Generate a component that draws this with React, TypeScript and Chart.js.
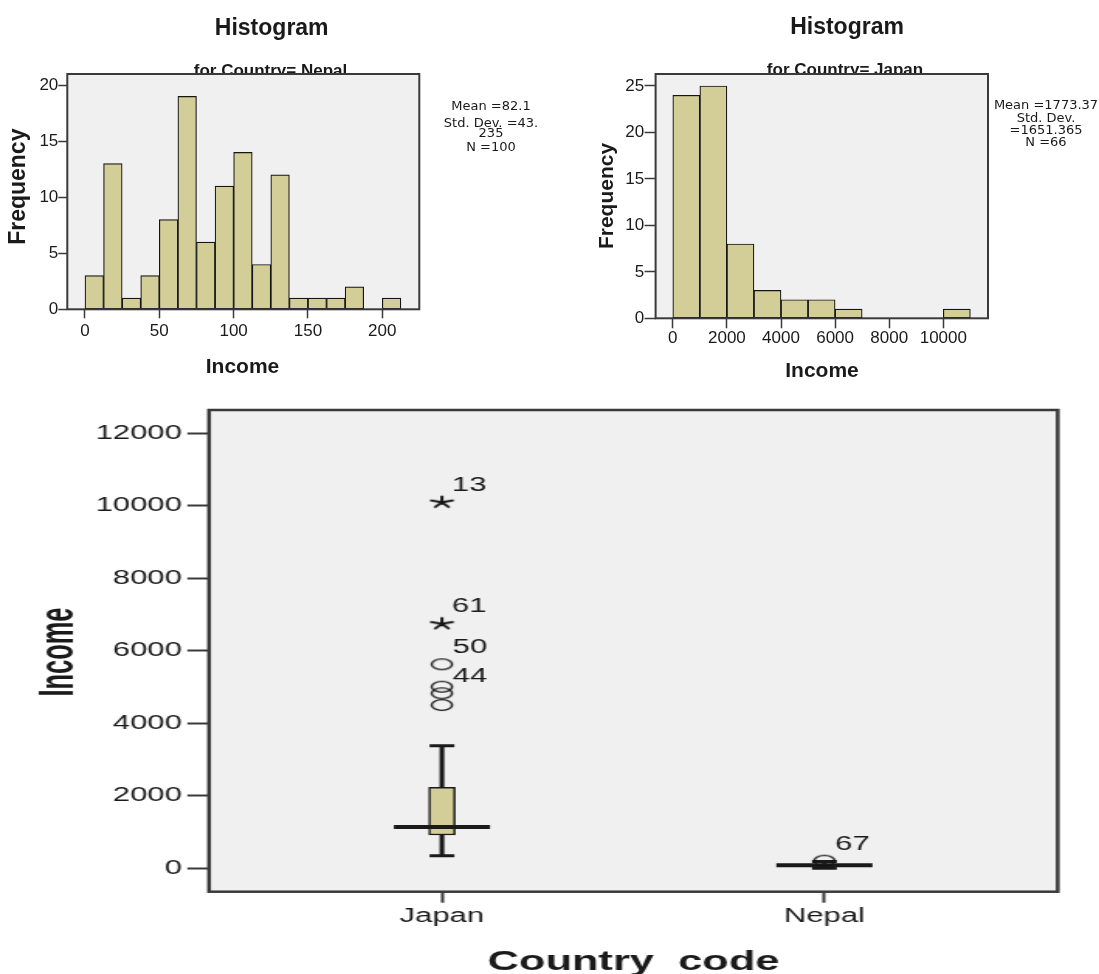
import React, { useEffect, useRef } from "react";
import { Chart, registerables } from "chart.js";
Chart.register(...registerables);

const SANS = '"Liberation Sans", Arial, Helvetica, sans-serif';
const DEJAVU = '"DejaVu Sans", Verdana, sans-serif';
const TAN = "#d3ce98";
const BG = "#f0f0f0";
const INK = "#1a1a1a";
const EDGE = "#151515";
const FRAME = "#3a3a3a";

// ---------------- data: Nepal histogram ----------------
const nepalBinStarts = [0, 12.5, 25, 37.5, 50, 62.5, 75, 87.5, 100, 112.5, 125, 137.5, 150, 162.5, 175, 187.5, 200];
const nepalBinWidth = 12.5;
const nepalCounts = [3, 13, 1, 3, 8, 19, 6, 11, 14, 4, 12, 1, 1, 1, 2, 0, 1];
const nepalXTicks = [0, 50, 100, 150, 200];
const nepalYTicks = [0, 5, 10, 15, 20];
const nepalStats = ["Mean =82.1", "Std. Dev. =43.", "235", "N =100"];

// ---------------- data: Japan histogram ----------------
const japanBinStarts = [0, 1000, 2000, 3000, 4000, 5000, 6000, 7000, 8000, 9000, 10000];
const japanBinWidth = 1000;
const japanCounts = [24, 25, 8, 3, 2, 2, 1, 0, 0, 0, 1];
const japanXTicks = [0, 2000, 4000, 6000, 8000, 10000];
const japanYTicks = [0, 5, 10, 15, 20, 25];
const japanStats = ["Mean =1773.37", "Std. Dev.", "=1651.365", "N =66"];

// ---------------- data: box plot ----------------
const countries = ["Japan", "Nepal"];
const whiskerLow = [348, 0];
const quartile1 = [918, 55];
const medians = [1139, 82];
const quartile3 = [2234, 112];
const whiskerHigh = [3382, 187];
const outlierCountry = [0, 0, 0, 0, 1];
const outlierValues = [5628, 5010, 4828, 4505, 210];
const outlierLabels = ["50", "", "44", "", "67"];
const extremeCountry = [0, 0];
const extremeValues = [10113, 6759];
const extremeLabels = ["13", "61"];
const boxYTicks = [0, 2000, 4000, 6000, 8000, 10000, 12000];

const PAGE_W = 1099;
const PAGE_H = 974;
const STRETCH = 1.55;
const BOX_W = Math.round(PAGE_W / STRETCH);

type Area = { left: number; top: number; right: number; bottom: number };
type HistSpec = {
  binStarts: number[];
  binWidth: number;
  counts: number[];
  xTicks: number[];
  yTicks: number[];
  stats: string[];
  subtitle: string;
  area: Area;
  xMin: number;
  xMax: number;
  yMax: number;
  xTickLen: number;
  yTickLen: number;
  xPad: number;
  yPad: number;
  t: {
    titleX: number; titleY: number; subX: number; subY: number;
    yTitleX: number; yTitleY: number; yTitleSize: number;
    xTitleX: number; xTitleY: number; xTitleSize: number;
    statsX: number; statsY: number[];
  };
};

function histPlugin(s: HistSpec) {
  return {
    id: "histDecor",
    beforeDraw(chart: any) {
      const ctx = chart.ctx;
      const a = chart.chartArea;
      ctx.save();
      ctx.fillStyle = INK;
      ctx.textAlign = "center";
      ctx.textBaseline = "alphabetic";
      ctx.font = `bold 17px ${SANS}`;
      ctx.fillText(s.subtitle, s.t.subX, s.t.subY);
      ctx.fillStyle = BG;
      ctx.fillRect(a.left, a.top, a.right - a.left, a.bottom - a.top);
      ctx.restore();
    },
    afterDatasetsDraw(chart: any) {
      const ctx = chart.ctx;
      const a = chart.chartArea;
      ctx.save();
      ctx.strokeStyle = FRAME;
      ctx.lineWidth = 2;
      ctx.strokeRect(a.left, a.top, a.right - a.left, a.bottom - a.top);
      ctx.restore();
    },
    afterDraw(chart: any) {
      const ctx = chart.ctx;
      ctx.save();
      ctx.fillStyle = INK;
      ctx.textAlign = "center";
      ctx.textBaseline = "alphabetic";
      ctx.font = `bold 23px ${SANS}`;
      ctx.fillText("Histogram", s.t.titleX, s.t.titleY);
      ctx.font = `bold ${s.t.xTitleSize}px ${SANS}`;
      ctx.fillText("Income", s.t.xTitleX, s.t.xTitleY);
      ctx.font = `13px ${DEJAVU}`;
      s.stats.forEach((line, i) => ctx.fillText(line, s.t.statsX, s.t.statsY[i]));
      ctx.translate(s.t.yTitleX, s.t.yTitleY);
      ctx.rotate(-Math.PI / 2);
      ctx.textBaseline = "middle";
      ctx.font = `bold ${s.t.yTitleSize}px ${SANS}`;
      ctx.fillText("Frequency", 0, 0);
      ctx.restore();
    },
  };
}

function makeHistogram(canvas: HTMLCanvasElement, s: HistSpec) {
  const yAxisW = 50;
  const xAxisH = 40;
  const a = s.area;
  return new Chart(canvas, {
    type: "bar",
    data: {
      datasets: [
        {
          data: s.binStarts.map((b, i) => ({ x: b + s.binWidth / 2, y: s.counts[i] })),
          backgroundColor: TAN,
          borderColor: EDGE,
          borderWidth: 1.2,
          borderSkipped: false,
          barPercentage: 1,
          categoryPercentage: 1,
          grouped: false,
        } as any,
      ],
    },
    options: {
      responsive: false,
      animation: false,
      events: [],
      layout: {
        autoPadding: false,
        padding: { left: a.left - yAxisW, right: PAGE_W - a.right, top: a.top, bottom: PAGE_H - a.bottom - xAxisH },
      },
      plugins: { legend: { display: false }, tooltip: { enabled: false }, title: { display: false } },
      scales: {
        x: {
          type: "linear",
          min: s.xMin,
          max: s.xMax,
          offset: false,
          afterFit: (sc: any) => { sc.height = xAxisH; },
          afterBuildTicks: (sc: any) => { sc.ticks = s.xTicks.map((v) => ({ value: v })); },
          grid: { display: true, drawOnChartArea: false, drawTicks: true, tickLength: s.xTickLen, tickWidth: 1.5, tickColor: FRAME, offset: false },
          border: { display: false },
          ticks: { color: INK, font: { family: SANS, size: 17 }, padding: s.xPad, maxRotation: 0, autoSkip: false, callback: (v: any) => String(v) },
        } as any,
        y: {
          type: "linear",
          min: 0,
          max: s.yMax,
          afterFit: (sc: any) => { sc.width = yAxisW; },
          afterBuildTicks: (sc: any) => { sc.ticks = s.yTicks.map((v) => ({ value: v })); },
          grid: { display: true, drawOnChartArea: false, drawTicks: true, tickLength: s.yTickLen, tickWidth: 1.5, tickColor: FRAME },
          border: { display: false },
          ticks: { color: INK, font: { family: SANS, size: 17 }, padding: s.yPad, autoSkip: false, callback: (v: any) => String(v) },
        } as any,
      },
    },
    plugins: [histPlugin(s)],
  });
}

function makeEllipse(): HTMLCanvasElement {
  const c = document.createElement("canvas");
  c.width = 16;
  c.height = 14;
  const g = c.getContext("2d")!;
  g.strokeStyle = EDGE;
  g.lineWidth = 1.4;
  g.beginPath();
  g.ellipse(8, 7, 6.6, 5.4, 0, 0, Math.PI * 2);
  g.stroke();
  return c;
}

function makeStar(): HTMLCanvasElement {
  const c = document.createElement("canvas");
  c.width = 18;
  c.height = 14;
  const g = c.getContext("2d")!;
  g.strokeStyle = EDGE;
  g.lineWidth = 2;
  g.lineCap = "round";
  g.beginPath();
  for (let k = 0; k < 5; k++) {
    const ang = -Math.PI / 2 + (k * 2 * Math.PI) / 5;
    g.moveTo(9, 7.5);
    g.lineTo(9 + Math.cos(ang) * 7.2, 7.5 + Math.sin(ang) * 5.8);
  }
  g.stroke();
  return c;
}

function makeBoxPlot(canvas: HTMLCanvasElement) {
  const area: Area = { left: 209 / STRETCH, right: 1057.7 / STRETCH, top: 410, bottom: 891.7 };
  const yAxisW = 80;
  const xAxisH = 40;
  const pos = countries.map((_, i) => i + 1);
  const ellipse = makeEllipse();
  const star = makeStar();

  const decor = {
    id: "boxDecor",
    beforeDraw(chart: any) {
      const ctx = chart.ctx;
      const a = chart.chartArea;
      ctx.save();
      ctx.fillStyle = BG;
      ctx.fillRect(a.left, a.top, a.right - a.left, a.bottom - a.top);
      ctx.restore();
    },
    afterDatasetsDraw(chart: any) {
      const ctx = chart.ctx;
      const a = chart.chartArea;
      ctx.save();
      ctx.strokeStyle = FRAME;
      ctx.lineWidth = 2.5;
      ctx.strokeRect(a.left, a.top, a.right - a.left, a.bottom - a.top);
      ctx.fillStyle = INK;
      ctx.font = `20px ${SANS}`;
      ctx.textAlign = "left";
      ctx.textBaseline = "alphabetic";
      const om = chart.getDatasetMeta(5);
      om.data.forEach((el: any, i: number) => {
        if (outlierLabels[i]) ctx.fillText(outlierLabels[i], el.x + 7, el.y - 11);
      });
      const em = chart.getDatasetMeta(6);
      em.data.forEach((el: any, i: number) => {
        if (extremeLabels[i]) ctx.fillText(extremeLabels[i], el.x + 6.5, el.y - 11);
      });
      ctx.restore();
    },
    afterDraw(chart: any) {
      const ctx = chart.ctx;
      ctx.save();
      ctx.fillStyle = INK;
      ctx.textAlign = "center";
      ctx.textBaseline = "alphabetic";
      ctx.font = `bold 28px ${SANS}`;
      ctx.fillText("Country  code", 633.5 / STRETCH, 970);
      ctx.translate(60 / STRETCH, 652);
      ctx.rotate(-Math.PI / 2);
      ctx.scale(0.82, 1);
      ctx.textBaseline = "middle";
      ctx.font = `bold 31px ${SANS}`;
      ctx.fillText("Income", 0, 0);
      ctx.restore();
    },
  };

  return new Chart(canvas, {
    type: "bar",
    data: {
      datasets: [
        {
          type: "bar",
          data: pos.map((x, i) => ({ x, y: [whiskerLow[i], quartile1[i]] })),
          barThickness: 2.4,
          backgroundColor: INK,
          borderWidth: 0,
          grouped: false,
          order: 6,
        },
        {
          type: "bar",
          data: pos.map((x, i) => ({ x, y: [quartile3[i], whiskerHigh[i]] })),
          barThickness: 2.4,
          backgroundColor: INK,
          borderWidth: 0,
          grouped: false,
          order: 6,
        },
        {
          type: "bar",
          data: pos.map((x, i) => ({ x, y: [quartile1[i], quartile3[i]] })),
          barThickness: 17,
          backgroundColor: TAN,
          borderColor: INK,
          borderWidth: 1.5,
          borderSkipped: false,
          grouped: false,
          order: 5,
        },
        {
          type: "scatter",
          data: [
            ...pos.map((x, i) => ({ x, y: whiskerLow[i] })),
            ...pos.map((x, i) => ({ x, y: whiskerHigh[i] })),
          ],
          pointStyle: "line",
          pointRadius: 8,
          pointBorderWidth: 3,
          pointBorderColor: INK,
          order: 4,
        },
        {
          type: "scatter",
          data: pos.map((x, i) => ({ x, y: medians[i] })),
          pointStyle: "line",
          pointRadius: 31,
          pointBorderWidth: 4,
          pointBorderColor: INK,
          order: 3,
        },
        {
          type: "scatter",
          data: outlierValues.map((v, i) => ({ x: outlierCountry[i] + 1, y: v })),
          pointStyle: ellipse,
          pointRadius: 7,
          order: 2,
        },
        {
          type: "scatter",
          data: extremeValues.map((v, i) => ({ x: extremeCountry[i] + 1, y: v })),
          pointStyle: star,
          pointRadius: 7,
          order: 1,
        },
      ] as any,
    },
    options: {
      responsive: false,
      animation: false,
      events: [],
      layout: {
        autoPadding: false,
        padding: { left: area.left - yAxisW, right: BOX_W - area.right, top: area.top, bottom: PAGE_H - area.bottom - xAxisH },
      },
      plugins: { legend: { display: false }, tooltip: { enabled: false }, title: { display: false } },
      scales: {
        x: {
          type: "linear",
          min: 0.391,
          max: 2.61,
          offset: false,
          afterFit: (sc: any) => { sc.height = xAxisH; },
          afterBuildTicks: (sc: any) => { sc.ticks = pos.map((v) => ({ value: v })); },
          grid: { display: true, drawOnChartArea: false, drawTicks: true, tickLength: 11, tickWidth: 2, tickColor: FRAME, offset: false },
          border: { display: false },
          ticks: { color: INK, font: { family: SANS, size: 20 }, padding: 2, maxRotation: 0, autoSkip: false, callback: (v: any) => countries[Math.round(v) - 1] ?? "" },
        } as any,
        y: {
          type: "linear",
          min: -645,
          max: 12643,
          afterFit: (sc: any) => { sc.width = yAxisW; },
          afterBuildTicks: (sc: any) => { sc.ticks = boxYTicks.map((v) => ({ value: v })); },
          grid: { display: true, drawOnChartArea: false, drawTicks: true, tickLength: 14, tickWidth: 2, tickColor: FRAME },
          border: { display: false },
          ticks: { color: INK, font: { family: SANS, size: 20 }, padding: 3.5, autoSkip: false, callback: (v: any) => String(v) },
        } as any,
      },
    },
    plugins: [decor],
  });
}

const nepalSpec: HistSpec = {
  binStarts: nepalBinStarts,
  binWidth: nepalBinWidth,
  counts: nepalCounts,
  xTicks: nepalXTicks,
  yTicks: nepalYTicks,
  stats: nepalStats,
  subtitle: "for Country= Nepal",
  area: { left: 67.3, top: 74, right: 419.3, bottom: 309.3 },
  xMin: -11.9,
  xMax: 224.9,
  yMax: 21,
  xTickLen: 9,
  yTickLen: 9,
  xPad: 2.5,
  yPad: 0,
  t: {
    titleX: 271.7, titleY: 35, subX: 270.5, subY: 76,
    yTitleX: 18.3, yTitleY: 186.7, yTitleSize: 23,
    xTitleX: 242.5, xTitleY: 373, xTitleSize: 21,
    statsX: 491, statsY: [110, 126.7, 136.7, 151],
  },
};

const japanSpec: HistSpec = {
  binStarts: japanBinStarts,
  binWidth: japanBinWidth,
  counts: japanCounts,
  xTicks: japanXTicks,
  yTicks: japanYTicks,
  stats: japanStats,
  subtitle: "for Country= Japan",
  area: { left: 655.6, top: 74, right: 988, bottom: 318.3 },
  xMin: -636,
  xMax: 11652,
  yMax: 26.29,
  xTickLen: 10,
  yTickLen: 11,
  xPad: 0,
  yPad: 0.5,
  t: {
    titleX: 847, titleY: 33.5, subX: 845, subY: 75,
    yTitleX: 607.3, yTitleY: 196, yTitleSize: 21,
    xTitleX: 822, xTitleY: 376.7, xTitleSize: 21,
    statsX: 1046, statsY: [109.3, 121.7, 134, 146],
  },
};

export default function App() {
  const nepalRef = useRef<HTMLCanvasElement>(null);
  const japanRef = useRef<HTMLCanvasElement>(null);
  const boxRef = useRef<HTMLCanvasElement>(null);

  useEffect(() => {
    const charts: Chart[] = [];
    if (nepalRef.current) charts.push(makeHistogram(nepalRef.current, nepalSpec));
    if (japanRef.current) charts.push(makeHistogram(japanRef.current, japanSpec));
    if (boxRef.current) charts.push(makeBoxPlot(boxRef.current));
    return () => charts.forEach((c) => c.destroy());
  }, []);

  const layer: React.CSSProperties = { position: "absolute", left: 0, top: 0 };
  return (
    <div style={{ position: "absolute", left: 0, top: 0, width: PAGE_W, height: PAGE_H, background: "#fff", overflow: "hidden" }}>
      <canvas ref={nepalRef} width={PAGE_W} height={PAGE_H} style={layer} />
      <canvas ref={japanRef} width={PAGE_W} height={PAGE_H} style={layer} />
      <canvas
        ref={boxRef}
        width={BOX_W}
        height={PAGE_H}
        style={{ ...layer, transform: `scaleX(${STRETCH})`, transformOrigin: "0 0" }}
      />
    </div>
  );
}
